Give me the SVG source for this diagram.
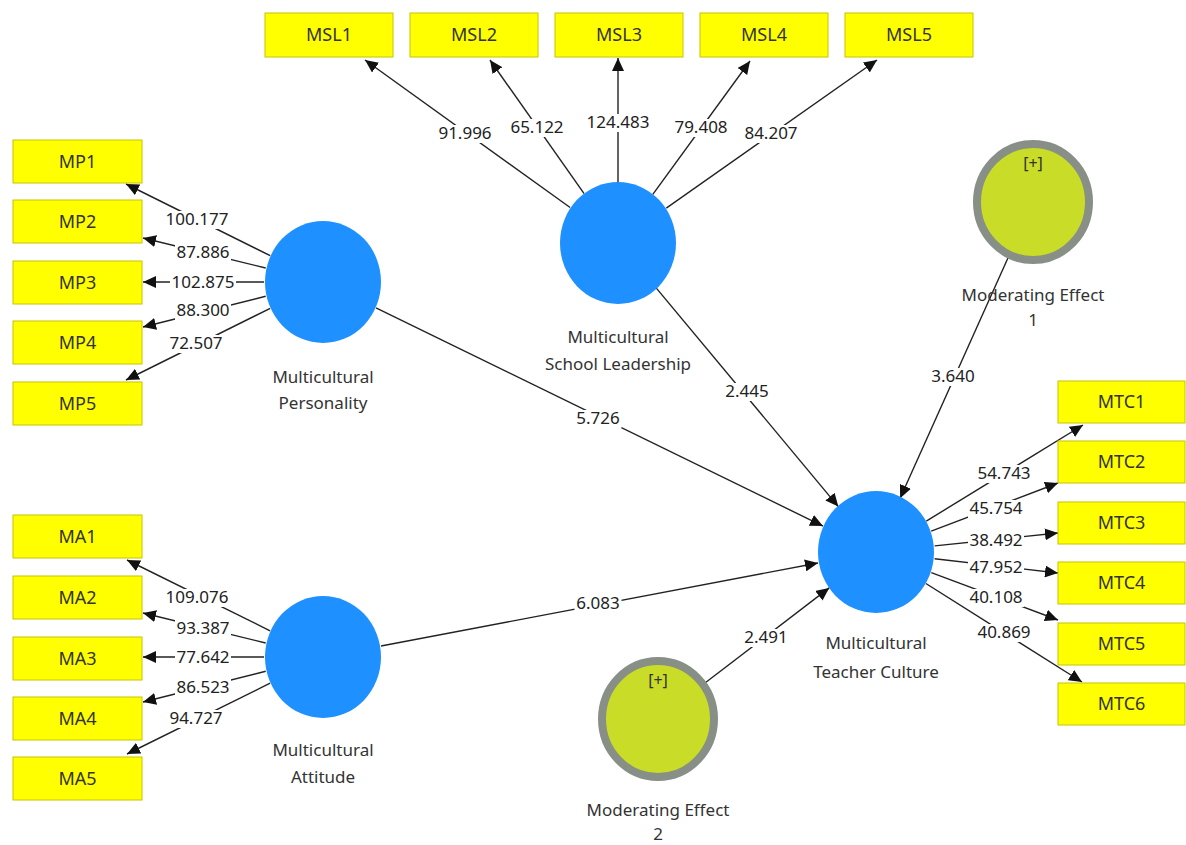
<svg xmlns="http://www.w3.org/2000/svg" width="1186" height="845" viewBox="0 0 1186 845">
<defs>
<marker id="ah" markerUnits="userSpaceOnUse" markerWidth="14" markerHeight="12" refX="13" refY="6" orient="auto">
<path d="M0,0 L13,6 L0,12 Z" fill="#111"/>
</marker>
<style>
.box{fill:#ffff00;stroke:#c8c400;stroke-width:1}
.bt{font-family:"Noto Sans","Open Sans",sans-serif;font-size:18px;fill:#333;text-anchor:middle}
.lat{fill:#1e90ff}
.mod{fill:#c9dc27;stroke:#878f87;stroke-width:8}
.nl{font-family:"Noto Sans","Open Sans",sans-serif;font-size:17px;fill:#333;text-anchor:middle}
.pl{font-family:"Noto Sans","Open Sans",sans-serif;font-size:17px;fill:#222;text-anchor:middle}
.lb{fill:#fff}
.c{stroke:#222;stroke-width:1.4;fill:none;marker-end:url(#ah)}
</style>
</defs>
<rect width="1186" height="845" fill="#fff"/>

<g id="connectors">
<line class="c" x1="270.2" y1="255.7" x2="126" y2="184"/>
<line class="c" x1="265.7" y1="268" x2="143" y2="238"/>
<line class="c" x1="264" y1="282" x2="143" y2="282"/>
<line class="c" x1="265.7" y1="296.3" x2="143" y2="327"/>
<line class="c" x1="270.2" y1="308.3" x2="126" y2="380"/>

<line class="c" x1="270.1" y1="630.8" x2="127" y2="560"/>
<line class="c" x1="265.7" y1="643" x2="143" y2="613"/>
<line class="c" x1="264" y1="657" x2="143" y2="657"/>
<line class="c" x1="265.7" y1="671.3" x2="143" y2="702"/>
<line class="c" x1="270.1" y1="683.2" x2="127" y2="754"/>

<line class="c" x1="570.1" y1="207.5" x2="365" y2="60"/>
<line class="c" x1="584.1" y1="193.7" x2="490" y2="60"/>
<line class="c" x1="618" y1="183" x2="618" y2="58"/>
<line class="c" x1="652.8" y1="194.3" x2="750" y2="61"/>
<line class="c" x1="666.3" y1="208.1" x2="877" y2="60"/>

<line class="c" x1="926.3" y1="521.1" x2="1083" y2="425"/>
<line class="c" x1="931.2" y1="531.1" x2="1058" y2="483"/>
<line class="c" x1="934.7" y1="545.9" x2="1058" y2="533"/>
<line class="c" x1="934.6" y1="558.8" x2="1058" y2="573"/>
<line class="c" x1="931.3" y1="572.6" x2="1058" y2="620"/>
<line class="c" x1="925.9" y1="583.5" x2="1082" y2="682"/>

<line class="c" x1="376" y1="307.9" x2="823" y2="526.1"/>
<line class="c" x1="381" y1="646" x2="818" y2="563"/>
<line class="c" x1="655.7" y1="287.4" x2="838.3" y2="506.6"/>
<line class="c" x1="1008.5" y1="256.7" x2="900.1" y2="498.2"/>
<line class="c" x1="705.6" y1="682.5" x2="829.2" y2="587.9"/>

<rect class="lb" x="164" y="211" width="66" height="18"/>
<rect class="lb" x="175" y="244" width="56" height="18"/>
<rect class="lb" x="170" y="274" width="66" height="18"/>
<rect class="lb" x="175" y="302" width="56" height="18"/>
<rect class="lb" x="168" y="335" width="56" height="18"/>
<rect class="lb" x="164" y="589" width="66" height="18"/>
<rect class="lb" x="175" y="620" width="56" height="18"/>
<rect class="lb" x="175" y="649" width="56" height="18"/>
<rect class="lb" x="175" y="679" width="56" height="18"/>
<rect class="lb" x="168" y="710" width="56" height="18"/>
<rect class="lb" x="437" y="125" width="56" height="18"/>
<rect class="lb" x="509" y="119" width="56" height="18"/>
<rect class="lb" x="585" y="114" width="66" height="18"/>
<rect class="lb" x="673" y="119" width="56" height="18"/>
<rect class="lb" x="743" y="125" width="56" height="18"/>
<rect class="lb" x="976" y="465" width="56" height="18"/>
<rect class="lb" x="968" y="500" width="56" height="18"/>
<rect class="lb" x="968" y="532" width="56" height="18"/>
<rect class="lb" x="968" y="559" width="56" height="18"/>
<rect class="lb" x="968" y="589" width="56" height="18"/>
<rect class="lb" x="976" y="624" width="56" height="18"/>
<rect class="lb" x="574.5" y="410" width="47" height="18"/>
<rect class="lb" x="574.5" y="595" width="47" height="18"/>
<rect class="lb" x="723.5" y="383" width="47" height="18"/>
<rect class="lb" x="929.5" y="368" width="47" height="18"/>
<rect class="lb" x="742.5" y="629" width="47" height="18"/>

<text class="pl" x="197" y="225">100.177</text>
<text class="pl" x="203" y="258">87.886</text>
<text class="pl" x="203" y="288">102.875</text>
<text class="pl" x="203" y="316">88.300</text>
<text class="pl" x="196" y="349">72.507</text>

<text class="pl" x="197" y="603">109.076</text>
<text class="pl" x="203" y="634">93.387</text>
<text class="pl" x="203" y="663">77.642</text>
<text class="pl" x="203" y="693">86.523</text>
<text class="pl" x="196" y="724">94.727</text>

<text class="pl" x="465" y="139">91.996</text>
<text class="pl" x="537" y="133">65.122</text>
<text class="pl" x="618" y="128">124.483</text>
<text class="pl" x="701" y="133">79.408</text>
<text class="pl" x="771" y="139">84.207</text>

<text class="pl" x="1004" y="479">54.743</text>
<text class="pl" x="996" y="514">45.754</text>
<text class="pl" x="996" y="546">38.492</text>
<text class="pl" x="996" y="573">47.952</text>
<text class="pl" x="996" y="603">40.108</text>
<text class="pl" x="1004" y="638">40.869</text>

<text class="pl" x="598" y="424">5.726</text>
<text class="pl" x="598" y="609">6.083</text>
<text class="pl" x="747" y="397">2.445</text>
<text class="pl" x="953" y="382">3.640</text>
<text class="pl" x="766" y="643">2.491</text>
</g>

<g id="MP1"><rect class="box" x="13" y="140" width="129" height="43"/><text class="bt" x="77.5" y="168">MP1</text></g>
<g id="MP2"><rect class="box" x="13" y="200" width="129" height="43"/><text class="bt" x="77.5" y="228">MP2</text></g>
<g id="MP3"><rect class="box" x="13" y="261" width="129" height="43"/><text class="bt" x="77.5" y="289">MP3</text></g>
<g id="MP4"><rect class="box" x="13" y="321" width="129" height="43"/><text class="bt" x="77.5" y="349">MP4</text></g>
<g id="MP5"><rect class="box" x="13" y="382" width="129" height="43"/><text class="bt" x="77.5" y="410">MP5</text></g>

<g id="MA1"><rect class="box" x="13" y="515" width="129" height="43"/><text class="bt" x="77.5" y="543">MA1</text></g>
<g id="MA2"><rect class="box" x="13" y="576" width="129" height="43"/><text class="bt" x="77.5" y="604">MA2</text></g>
<g id="MA3"><rect class="box" x="13" y="637" width="129" height="43"/><text class="bt" x="77.5" y="665">MA3</text></g>
<g id="MA4"><rect class="box" x="13" y="697" width="129" height="43"/><text class="bt" x="77.5" y="725">MA4</text></g>
<g id="MA5"><rect class="box" x="13" y="757" width="129" height="43"/><text class="bt" x="77.5" y="785">MA5</text></g>

<g id="MSL1"><rect class="box" x="265" y="13" width="128" height="44"/><text class="bt" x="329" y="41">MSL1</text></g>
<g id="MSL2"><rect class="box" x="410" y="13" width="128" height="44"/><text class="bt" x="474" y="41">MSL2</text></g>
<g id="MSL3"><rect class="box" x="555" y="13" width="128" height="44"/><text class="bt" x="619" y="41">MSL3</text></g>
<g id="MSL4"><rect class="box" x="700" y="13" width="128" height="44"/><text class="bt" x="764" y="41">MSL4</text></g>
<g id="MSL5"><rect class="box" x="845" y="13" width="128" height="44"/><text class="bt" x="909" y="41">MSL5</text></g>

<g id="MTC1"><rect class="box" x="1058" y="381" width="127" height="42"/><text class="bt" x="1121.5" y="408">MTC1</text></g>
<g id="MTC2"><rect class="box" x="1058" y="441" width="127" height="42"/><text class="bt" x="1121.5" y="468">MTC2</text></g>
<g id="MTC3"><rect class="box" x="1058" y="502" width="127" height="42"/><text class="bt" x="1121.5" y="529">MTC3</text></g>
<g id="MTC4"><rect class="box" x="1058" y="562" width="127" height="42"/><text class="bt" x="1121.5" y="589">MTC4</text></g>
<g id="MTC5"><rect class="box" x="1058" y="623" width="127" height="42"/><text class="bt" x="1121.5" y="650">MTC5</text></g>
<g id="MTC6"><rect class="box" x="1058" y="683" width="127" height="42"/><text class="bt" x="1121.5" y="710">MTC6</text></g>

<g id="MultiPersonality"><ellipse class="lat" cx="323" cy="282" rx="58" ry="61"/><text class="nl" x="323" y="383">Multicultural</text><text class="nl" x="323" y="409">Personality</text></g>
<g id="MultiAttitude"><ellipse class="lat" cx="323" cy="657" rx="58" ry="61"/><text class="nl" x="323" y="756">Multicultural</text><text class="nl" x="323" y="783">Attitude</text></g>
<g id="MultiSchoolLeadership"><ellipse class="lat" cx="618" cy="243" rx="58" ry="61"/><text class="nl" x="618" y="343">Multicultural</text><text class="nl" x="618" y="370">School Leadership</text></g>
<g id="MultiTeacherCulture"><ellipse class="lat" cx="876" cy="552" rx="58" ry="61"/><text class="nl" x="876" y="649">Multicultural</text><text class="nl" x="876" y="678">Teacher Culture</text></g>
<g id="ModEffect1"><ellipse class="mod" cx="1033" cy="202" rx="56" ry="58"/><text class="nl" x="1033" y="169" style="font-size:16px">[+]</text><text class="nl" x="1033" y="301">Moderating Effect</text><text class="nl" x="1033" y="326">1</text></g>
<g id="ModEffect2"><ellipse class="mod" cx="658" cy="719" rx="56" ry="58"/><text class="nl" x="658" y="686" style="font-size:16px">[+]</text><text class="nl" x="658" y="816">Moderating Effect</text><text class="nl" x="658" y="840">2</text></g>
</svg>
